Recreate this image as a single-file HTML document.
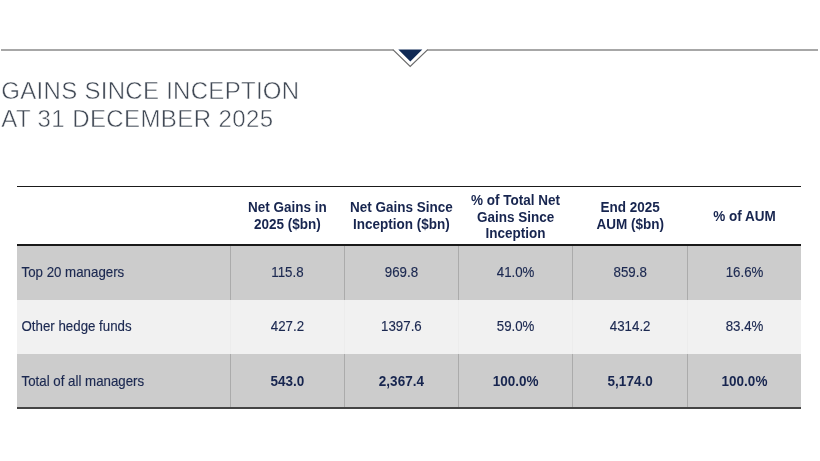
<!DOCTYPE html>
<html><head><meta charset="utf-8">
<style>
html,body{margin:0;padding:0;background:#fff;}
body{width:820px;height:461px;position:relative;overflow:hidden;font-family:"Liberation Sans",Arial,sans-serif;}
.topline{position:absolute;left:0;top:0;}
.title{position:absolute;left:1.3px;top:77px;font-size:24px;line-height:28px;color:#414955;white-space:nowrap;-webkit-text-stroke:0.5px #fff;}
.a{position:absolute;}
.t{transform:scaleY(1.05);position:absolute;font-size:13.3px;line-height:20px;height:20px;color:#1b2850;-webkit-text-stroke:0.15px #1b2850;white-space:nowrap;text-align:center;}
.h{transform:scaleY(1.05);position:absolute;font-size:13.5px;line-height:15.62px;color:#17254f;font-weight:bold;text-align:center;white-space:nowrap;}
.b{font-weight:bold;font-size:13.5px;color:#17254f;-webkit-text-stroke:0;}
</style></head><body>
<svg class="topline" width="820" height="80" viewBox="0 0 820 80">
<path d="M1 49.95 H393.4 M427.2 49.95 H818" fill="none" stroke="#8a8a8a" stroke-width="1.5"/>
<path d="M392.9 49.6 L410.2 66.4 L427.7 49.6" fill="none" stroke="#6a6a6a" stroke-width="1.25"/>
<path d="M398.3 49.5 H422.3 L410.3 61.5 Z" fill="#0f2954"/>
</svg>
<div class="title"><span style="letter-spacing:0.29px">GAINS SINCE INCEPTION</span><br><span style="letter-spacing:0.4px">AT 31 DECEMBER 2025</span></div>

<div class="a" style="left:17.3px;top:246.0px;width:784.2px;height:53.7px;background:#cccccc"></div>
<div class="a" style="left:229.9px;top:246.0px;width:1px;height:53.7px;background:#ababab"></div>
<div class="a" style="left:343.9px;top:246.0px;width:1px;height:53.7px;background:#ababab"></div>
<div class="a" style="left:457.9px;top:246.0px;width:1px;height:53.7px;background:#ababab"></div>
<div class="a" style="left:572.3px;top:246.0px;width:1px;height:53.7px;background:#ababab"></div>
<div class="a" style="left:687.0px;top:246.0px;width:1px;height:53.7px;background:#ababab"></div>
<div class="a" style="left:17.3px;top:299.7px;width:784.2px;height:53.9px;background:#f1f1f1"></div>
<div class="a" style="left:229.9px;top:299.7px;width:1px;height:53.9px;background:#ececec"></div>
<div class="a" style="left:343.9px;top:299.7px;width:1px;height:53.9px;background:#ececec"></div>
<div class="a" style="left:457.9px;top:299.7px;width:1px;height:53.9px;background:#ececec"></div>
<div class="a" style="left:572.3px;top:299.7px;width:1px;height:53.9px;background:#ececec"></div>
<div class="a" style="left:687.0px;top:299.7px;width:1px;height:53.9px;background:#ececec"></div>
<div class="a" style="left:17.3px;top:353.6px;width:784.2px;height:53.4px;background:#cccccc"></div>
<div class="a" style="left:229.9px;top:353.6px;width:1px;height:53.4px;background:#ababab"></div>
<div class="a" style="left:343.9px;top:353.6px;width:1px;height:53.4px;background:#ababab"></div>
<div class="a" style="left:457.9px;top:353.6px;width:1px;height:53.4px;background:#ababab"></div>
<div class="a" style="left:572.3px;top:353.6px;width:1px;height:53.4px;background:#ababab"></div>
<div class="a" style="left:687.0px;top:353.6px;width:1px;height:53.4px;background:#ababab"></div>
<div class="a" style="left:17.3px;top:185.6px;width:784.2px;height:1.6px;background:#1a1a1a"></div>
<div class="a" style="left:17.3px;top:244px;width:784.2px;height:2px;background:#1a1a1a"></div>
<div class="a" style="left:17.3px;top:407px;width:784.2px;height:2px;background:#444444"></div>
<div class="h" style="left:230.4px;width:114.0px;top:200.38px">Net Gains in<br>2025 ($bn)</div>
<div class="h" style="left:344.4px;width:114.0px;top:200.38px">Net Gains Since<br>Inception ($bn)</div>
<div class="h" style="left:458.4px;width:114.4px;top:193.57px">% of Total Net<br>Gains Since<br>Inception</div>
<div class="h" style="left:572.8px;width:114.7px;top:200.38px">End 2025<br>AUM ($bn)</div>
<div class="h" style="left:687.5px;width:114.0px;top:208.69px">% of AUM</div>
<div class="t" style="left:21.5px;top:263.19px;text-align:left">Top 20 managers</div>
<div class="t" style="left:230.4px;width:114.0px;top:263.19px">115.8</div>
<div class="t" style="left:344.4px;width:114.0px;top:263.19px">969.8</div>
<div class="t" style="left:458.4px;width:114.4px;top:263.19px">41.0%</div>
<div class="t" style="left:572.8px;width:114.7px;top:263.19px">859.8</div>
<div class="t" style="left:687.5px;width:114.0px;top:263.19px">16.6%</div>
<div class="t" style="left:21.5px;top:317.19px;text-align:left">Other hedge funds</div>
<div class="t" style="left:230.4px;width:114.0px;top:317.19px">427.2</div>
<div class="t" style="left:344.4px;width:114.0px;top:317.19px">1397.6</div>
<div class="t" style="left:458.4px;width:114.4px;top:317.19px">59.0%</div>
<div class="t" style="left:572.8px;width:114.7px;top:317.19px">4314.2</div>
<div class="t" style="left:687.5px;width:114.0px;top:317.19px">83.4%</div>
<div class="t" style="left:21.5px;top:371.79px;text-align:left">Total of all managers</div>
<div class="t b" style="left:230.4px;width:114.0px;top:371.79px">543.0</div>
<div class="t b" style="left:344.4px;width:114.0px;top:371.79px">2,367.4</div>
<div class="t b" style="left:458.4px;width:114.4px;top:371.79px">100.0%</div>
<div class="t b" style="left:572.8px;width:114.7px;top:371.79px">5,174.0</div>
<div class="t b" style="left:687.5px;width:114.0px;top:371.79px">100.0%</div>
</body></html>
